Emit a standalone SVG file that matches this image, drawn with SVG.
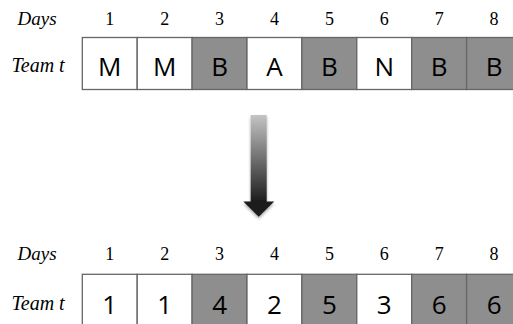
<svg xmlns="http://www.w3.org/2000/svg" width="513" height="324" viewBox="0 0 513 324">
<defs>
<linearGradient id="shaft" x1="0" y1="0" x2="0" y2="1">
<stop offset="0" stop-color="#c4c4c4"/>
<stop offset="1" stop-color="#1c1c1c"/>
</linearGradient>
<filter id="sh" x="-50%" y="-10%" width="200%" height="130%">
<feGaussianBlur in="SourceAlpha" stdDeviation="1.5"/>
<feOffset dx="0" dy="1.5" result="b"/>
<feComponentTransfer><feFuncA type="linear" slope="0.35"/></feComponentTransfer>
<feMerge><feMergeNode/><feMergeNode in="SourceGraphic"/></feMerge>
</filter>
</defs>
<style>
.lbl{font-family:"Liberation Serif","Times New Roman",serif;font-style:italic;fill:#000}
.num{font-family:"Liberation Serif","Times New Roman",serif;font-size:18px;fill:#000;text-anchor:middle}
.cell{stroke:#666;stroke-width:1.3}
.w{fill:#fff}
.g{fill:#8e8e8e}
.ct{font-family:"Open Sans","Liberation Sans",sans-serif;font-size:26px;fill:#000;text-anchor:middle}
</style>
<g id="top-row">
<text class="lbl" x="17.5" y="25" font-size="19">Days</text>
<text class="lbl" x="11.5" y="72" font-size="20">Team t</text>
<text class="num" x="109.8" y="25">1</text>
<text class="num" x="164.7" y="25">2</text>
<text class="num" x="219.6" y="25">3</text>
<text class="num" x="274.5" y="25">4</text>
<text class="num" x="329.4" y="25">5</text>
<text class="num" x="384.3" y="25">6</text>
<text class="num" x="439.2" y="25">7</text>
<text class="num" x="494.1" y="25">8</text>
<rect class="cell w" x="82.3" y="37.5" width="54.9" height="52"/>
<rect class="cell w" x="137.2" y="37.5" width="54.9" height="52"/>
<rect class="cell g" x="192.1" y="37.5" width="54.9" height="52"/>
<rect class="cell w" x="247" y="37.5" width="54.9" height="52"/>
<rect class="cell g" x="301.9" y="37.5" width="54.9" height="52"/>
<rect class="cell w" x="356.8" y="37.5" width="54.9" height="52"/>
<rect class="cell g" x="411.7" y="37.5" width="54.9" height="52"/>
<rect class="cell g" x="466.6" y="37.5" width="54.9" height="52"/>
<text class="ct" x="109.8" y="76">M</text>
<text class="ct" x="164.7" y="76">M</text>
<text class="ct" x="219.6" y="76">B</text>
<text class="ct" x="274.5" y="76">A</text>
<text class="ct" x="329.4" y="76">B</text>
<text class="ct" x="384.3" y="76">N</text>
<text class="ct" x="439.2" y="76">B</text>
<text class="ct" x="494.1" y="76">B</text>
</g>
<g id="connectors">
<g id="arrow" filter="url(#sh)">
<rect x="250.7" y="115" width="16" height="87" fill="url(#shaft)"/>
<polygon points="243.3,201.5 274.2,201.5 258.7,216.7" fill="#1c1c1c"/>
</g>
</g>
<g id="bottom-row">
<text class="lbl" x="17.5" y="260" font-size="19">Days</text>
<text class="lbl" x="11.5" y="310" font-size="20">Team t</text>
<text class="num" x="109.8" y="260">1</text>
<text class="num" x="164.7" y="260">2</text>
<text class="num" x="219.6" y="260">3</text>
<text class="num" x="274.5" y="260">4</text>
<text class="num" x="329.4" y="260">5</text>
<text class="num" x="384.3" y="260">6</text>
<text class="num" x="439.2" y="260">7</text>
<text class="num" x="494.1" y="260">8</text>
<rect class="cell w" x="82.3" y="274.3" width="54.9" height="52"/>
<rect class="cell w" x="137.2" y="274.3" width="54.9" height="52"/>
<rect class="cell g" x="192.1" y="274.3" width="54.9" height="52"/>
<rect class="cell w" x="247" y="274.3" width="54.9" height="52"/>
<rect class="cell g" x="301.9" y="274.3" width="54.9" height="52"/>
<rect class="cell w" x="356.8" y="274.3" width="54.9" height="52"/>
<rect class="cell g" x="411.7" y="274.3" width="54.9" height="52"/>
<rect class="cell g" x="466.6" y="274.3" width="54.9" height="52"/>
<text class="ct" x="109.8" y="314">1</text>
<text class="ct" x="164.7" y="314">1</text>
<text class="ct" x="219.6" y="314">4</text>
<text class="ct" x="274.5" y="314">2</text>
<text class="ct" x="329.4" y="314">5</text>
<text class="ct" x="384.3" y="314">3</text>
<text class="ct" x="439.2" y="314">6</text>
<text class="ct" x="494.1" y="314">6</text>
</g>
</svg>
